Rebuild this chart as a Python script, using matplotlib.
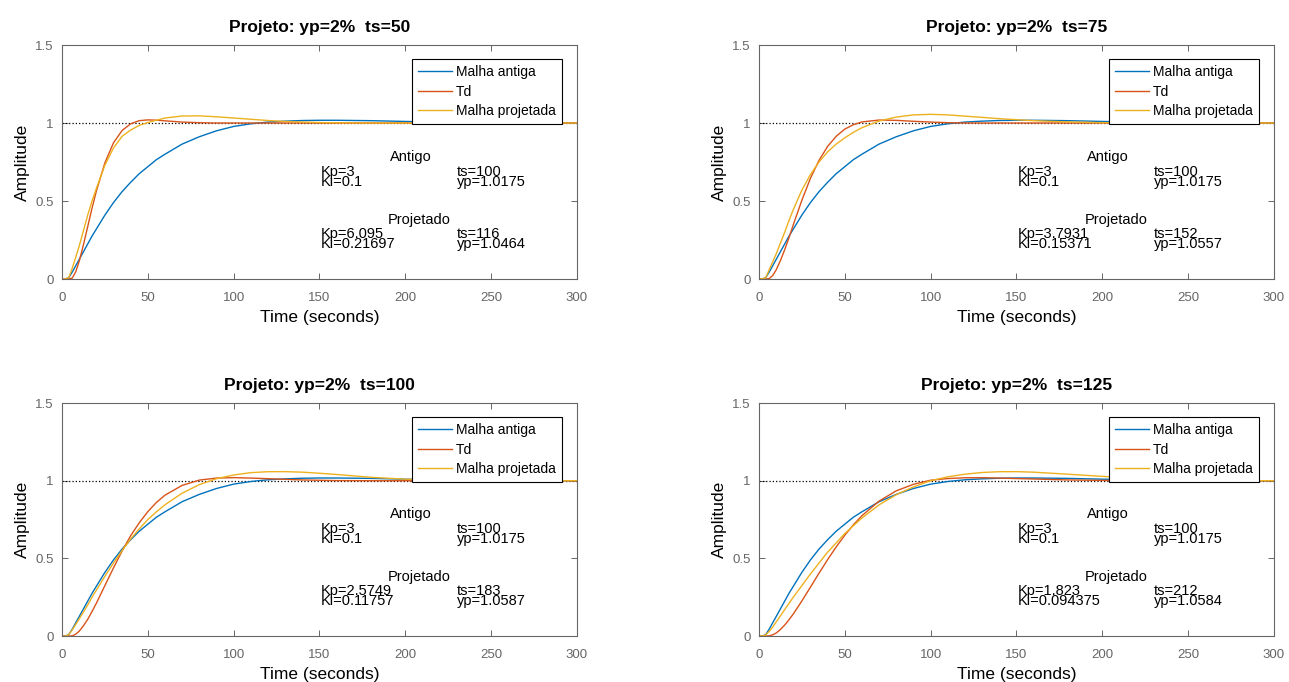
# Respostas ao degrau: malha antiga x Td x malha projetada (4 projetos)
import matplotlib
matplotlib.use('Agg')
import matplotlib.pyplot as plt

plt.rcParams['font.family'] = ['Liberation Sans', 'DejaVu Sans']

# Tempo de amostragem (s)
tempo = [0, 2, 4, 6, 8, 10, 12.5, 15, 17.5, 20, 25, 30, 35, 40, 45, 50, 55, 60,
         70, 80, 90, 100, 110, 120, 130, 140, 150, 160, 180, 200, 220, 240, 260, 280, 300]

# Malha antiga (Kp=3, Ki=0.1) - igual nos 4 graficos
malha_antiga = [0, 0, 0.01, 0.045, 0.085, 0.125, 0.175, 0.225, 0.275, 0.32, 0.41, 0.49, 0.56, 0.62,
                0.675, 0.72, 0.765, 0.80, 0.865, 0.912, 0.95, 0.978, 0.995, 1.006, 1.012, 1.016,
                1.0175, 1.0175, 1.015, 1.01, 1.006, 1.003, 1.001, 1.0, 1.0]

# Td (resposta desejada) para cada projeto
td_ts50 = [0, 0, 0, 0.006, 0.046, 0.113, 0.22, 0.337, 0.454, 0.563, 0.745, 0.873, 0.952, 0.995,
           1.015, 1.02, 1.018, 1.014, 1.006, 1.002, 1.0, 1.0, 1.0, 1.0, 1.0, 1.0, 1.0, 1.0, 1.0,
           1.0, 1.0, 1.0, 1.0, 1.0, 1.0]
td_ts75 = [0, 0, 0, 0.003, 0.022, 0.058, 0.118, 0.188, 0.265, 0.348, 0.505, 0.646, 0.761, 0.85,
           0.915, 0.961, 0.989, 1.007, 1.019, 1.017, 1.011, 1.006, 1.002, 1.0, 1.0, 1.0, 1.0, 1.0,
           1.0, 1.0, 1.0, 1.0, 1.0, 1.0, 1.0]
td_ts100 = [0, 0, 0, 0.001, 0.012, 0.031, 0.066, 0.108, 0.158, 0.211, 0.325, 0.439, 0.547, 0.646,
            0.729, 0.801, 0.86, 0.907, 0.97, 1.004, 1.017, 1.02, 1.017, 1.013, 1.009, 1.005, 1.003,
            1.001, 1.0, 1.0, 1.0, 1.0, 1.0, 1.0, 1.0]
td_ts125 = [0, 0, 0, 0.001, 0.008, 0.019, 0.042, 0.071, 0.105, 0.142, 0.226, 0.315, 0.405, 0.492,
            0.574, 0.649, 0.716, 0.775, 0.869, 0.935, 0.977, 1.003, 1.014, 1.019, 1.0195, 1.017,
            1.014, 1.011, 1.005, 1.002, 1.0, 1.0, 1.0, 1.0, 1.0]

# Malha projetada para cada projeto
proj_ts50 = [0, 0, 0.01, 0.07, 0.14, 0.21, 0.31, 0.41, 0.50, 0.58, 0.73, 0.84, 0.915, 0.955,
             0.985, 1.003, 1.018, 1.032, 1.045, 1.046, 1.04, 1.032, 1.024, 1.016, 1.01, 1.006,
             1.003, 1.001, 1.0, 1.0, 1.0, 1.0, 1.0, 1.0, 1.0]
proj_ts75 = [0, 0, 0.01, 0.06, 0.11, 0.16, 0.23, 0.30, 0.375, 0.445, 0.57, 0.67, 0.75, 0.815,
             0.865, 0.905, 0.94, 0.97, 1.013, 1.038, 1.052, 1.0557, 1.052, 1.044, 1.036, 1.028,
             1.021, 1.015, 1.007, 1.002, 1.0, 1.0, 1.0, 1.0, 1.0]
proj_ts100 = [0, 0, 0.01, 0.04, 0.075, 0.11, 0.155, 0.20, 0.25, 0.295, 0.385, 0.47, 0.55, 0.625,
              0.69, 0.75, 0.80, 0.845, 0.92, 0.975, 1.013, 1.037, 1.052, 1.058, 1.0585, 1.055,
              1.048, 1.04, 1.022, 1.01, 1.003, 1.0, 1.0, 1.0, 1.0]
proj_ts125 = [0, 0, 0.008, 0.03, 0.058, 0.09, 0.13, 0.17, 0.21, 0.25, 0.325, 0.40, 0.47, 0.54,
              0.60, 0.66, 0.71, 0.76, 0.845, 0.91, 0.96, 1.0, 1.025, 1.042, 1.053, 1.058, 1.0584,
              1.055, 1.042, 1.028, 1.015, 1.007, 1.003, 1.001, 1.0]

td_curvas = [td_ts50, td_ts75, td_ts100, td_ts125]
proj_curvas = [proj_ts50, proj_ts75, proj_ts100, proj_ts125]

# Textos
titulos = ['Projeto: yp=2%  ts=50', 'Projeto: yp=2%  ts=75',
           'Projeto: yp=2%  ts=100', 'Projeto: yp=2%  ts=125']
kp_proj = ['6.095', '3.7931', '2.5749', '1.823']
ki_proj = ['0.21697', '0.15371', '0.11757', '0.094375']
ts_proj = ['116', '152', '183', '212']
yp_proj = ['1.0464', '1.0557', '1.0587', '1.0584']
legenda = ['Malha antiga', 'Td', 'Malha projetada']

# Cores padrao do MATLAB
azul = '#0072BD'
laranja = '#D95319'
amarelo = '#EDB120'
cinza = '#666666'

posicoes = [[0.0481, 0.5909, 0.3995, 0.3431],
            [0.5888, 0.5909, 0.3995, 0.3431],
            [0.0481, 0.0674, 0.3995, 0.3416],
            [0.5888, 0.0674, 0.3995, 0.3416]]

fig = plt.figure(figsize=(12.89, 6.82), dpi=100)

for i in range(4):
    ax = fig.add_axes(posicoes[i])
    ax.plot([0, 300], [1, 1], ':', color='black', lw=0.9)
    ax.plot(tempo, malha_antiga, color=azul, lw=1.0, label=legenda[0])
    ax.plot(tempo, td_curvas[i], color=laranja, lw=1.0, label=legenda[1])
    ax.plot(tempo, proj_curvas[i], color=amarelo, lw=1.0, label=legenda[2])

    ax.set_xlim(0, 300)
    ax.set_ylim(0, 1.5)
    ax.set_xticks([0, 50, 100, 150, 200, 250, 300])
    ax.set_yticks([0, 0.5, 1, 1.5])
    ax.set_yticklabels(['0', '0.5', '1', '1.5'])
    ax.tick_params(direction='in', top=True, right=True, length=4, width=0.7,
                   colors=cinza, labelsize=9.5)
    ax.tick_params(axis='x', pad=9)
    ax.tick_params(axis='y', pad=6)
    for sp in ax.spines.values():
        sp.set_color(cinza)
        sp.set_linewidth(0.8)

    ax.set_title(titulos[i], fontsize=12.5, fontweight='bold', pad=9.5)
    ax.set_xlabel('Time (seconds)', fontsize=12.5, labelpad=5)
    ax.set_ylabel('Amplitude', fontsize=12.5, labelpad=4)

    leg = ax.legend(loc='upper right', bbox_to_anchor=(0.971, 0.94), borderaxespad=0,
                    fontsize=10, handlelength=2.4, handletextpad=0.3, fancybox=False,
                    framealpha=1, edgecolor='black', borderpad=0.45, labelspacing=0.38)
    leg.get_frame().set_linewidth(0.8)

    fs = 10.5
    ls = 0.66
    ax.text(203, 0.784, 'Antigo', ha='center', va='center', fontsize=fs)
    ax.text(151, 0.656, 'Kp=3\nKi=0.1', ha='left', va='center', fontsize=fs, linespacing=ls)
    ax.text(230, 0.656, 'ts=100\nyp=1.0175', ha='left', va='center', fontsize=fs, linespacing=ls)
    ax.text(208, 0.378, 'Projetado', ha='center', va='center', fontsize=fs)
    ax.text(151, 0.258, 'Kp=' + kp_proj[i] + '\nKi=' + ki_proj[i],
            ha='left', va='center', fontsize=fs, linespacing=ls)
    ax.text(230, 0.258, 'ts=' + ts_proj[i] + '\nyp=' + yp_proj[i],
            ha='left', va='center', fontsize=fs, linespacing=ls)

fig.savefig('out.png', dpi=100)
